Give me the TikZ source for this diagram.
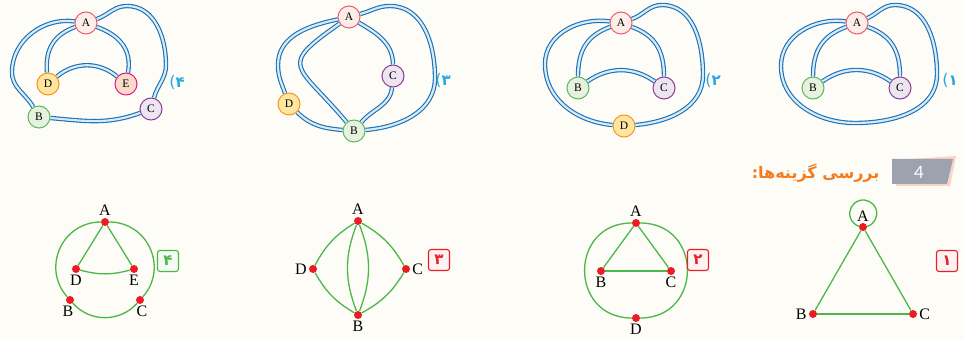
\documentclass[tikz,border=0pt]{standalone}
\usepackage{fontspec}
\usepackage{xcolor}
\usetikzlibrary{positioning}
\setmainfont{Liberation Serif}
\newfontfamily\fafont[Script=Arabic]{DejaVu Sans}
\newfontfamily\digfont{DejaVu Sans}
\newfontfamily\tabfont{Lato}
\TeXXeTstate=1
\definecolor{pagebg}{HTML}{FDFCF7}
\definecolor{roadblue}{HTML}{1B6FB5}
\definecolor{roadfill}{HTML}{D6EBF5}
\definecolor{ringA}{HTML}{EF5A6F}
\definecolor{fillA}{HTML}{FDEEEA}
\definecolor{ringB}{HTML}{5CB85C}
\definecolor{fillB}{HTML}{E6F2DD}
\definecolor{ringC}{HTML}{8B3C97}
\definecolor{fillC}{HTML}{EDE6F1}
\definecolor{ringD}{HTML}{F7931E}
\definecolor{fillD}{HTML}{FFE6A0}
\definecolor{ringE}{HTML}{E5177E}
\definecolor{fillE}{HTML}{FBDACB}
\definecolor{optcyan}{HTML}{27AAE1}
\definecolor{linegreen}{HTML}{4CB749}
\definecolor{dotred}{HTML}{ED1C24}
\definecolor{boxred}{HTML}{E8202A}
\definecolor{boxgreen}{HTML}{4CB749}
\definecolor{headorange}{HTML}{F47B20}
\definecolor{tabgray}{HTML}{9DA3AE}
\definecolor{tabpink}{HTML}{F9D3C4}
\newcommand{\optpar}{{\digfont\mdseries\fontsize{16}{16}\selectfont(}}

\begin{document}
\begin{tikzpicture}[x=1pt,y=1pt,
  every node/.style={font=\fontsize{11.5}{11.5}\selectfont},
  vtx/.style={circle,draw,line width=1pt,minimum size=22pt,inner sep=0pt},
  vA/.style={vtx,draw=ringA,fill=fillA},
  vB/.style={vtx,draw=ringB,fill=fillB},
  vC/.style={vtx,draw=ringC,fill=fillC},
  vD/.style={vtx,draw=ringD,fill=fillD},
  vE/.style={vtx,draw=ringE,fill=fillE},
  road/.style={draw=roadblue,line width=1.1pt,double=roadfill,double distance=2.2pt},
  optlbl/.style={text=optcyan,font=\digfont\bfseries\fontsize{15}{15}\selectfont},
  vdot/.style={circle,fill=dotred,minimum size=8pt,inner sep=0pt},
  gline/.style={draw=linegreen,line width=1.3pt},
  lettr/.style={inner sep=1pt,font=\fontsize{16}{16}\selectfont},
  numbox/.style={draw=#1,fill=#1!6,rounded corners=2.5pt,line width=1.1pt,minimum size=21pt,inner sep=0pt,text=#1,font=\digfont\bfseries\fontsize{15}{15}\selectfont}]
  \fill[pagebg] (0,0) rectangle (964,340);
  \useasboundingbox (0,0) rectangle (964,340);

  \node[vA] (n4A) at (86,317) {A};
  \node[vD] (n4D) at (48,256) {D};
  \node[vE] (n4E) at (126,256) {E};
  \node[vB] (n4B) at (39,223) {B};
  \node[vC] (n4C) at (151,231) {C};
  \coordinate (n4l) at (12,268);
  \coordinate (n4t) at (127,334);
  \coordinate (n4r) at (166,275);
  \draw[road] (n4A) to[out=200,in=95,looseness=1.1] (n4D);
  \draw[road] (n4A) to[out=-20,in=80,looseness=1.1] (n4E);
  \draw[road] (n4D) to[out=40,in=140] (n4E);
  \draw[road] (n4A) to[out=172,in=90] (n4l) to[out=-90,in=120] (n4B);
  \draw[road] (n4A) to[out=20,in=180] (n4t) to[out=0,in=90] (n4r) to[out=-90,in=75] (n4C);
  \draw[road] (n4B) to[out=-5,in=200] (n4C);
  \node[optlbl] (o4) at (177,258) {\optpar۴};

  \node[vA] (n3A) at (349,323) {A};
  \node[vC] (n3C) at (393,264) {C};
  \node[vD] (n3D) at (289,236) {D};
  \node[vB] (n3B) at (354,209) {B};
  \coordinate (n3l) at (278,275);
  \coordinate (n3t) at (390,334);
  \coordinate (n3r) at (435,262);
  \draw[road] (n3A) to[out=192,in=90] (n3l) to[out=-90,in=110] (n3D);
  \draw[road] (n3D) to[out=-45,in=175] (n3B);
  \draw[road] (n3A) to[out=215,in=130,looseness=2] (n3B);
  \draw[road] (n3A) to[out=-30,in=90] (n3C);
  \draw[road] (n3C) to[out=-95,in=50] (n3B);
  \draw[road] (n3A) to[out=15,in=180] (n3t) to[out=0,in=90] (n3r) to[out=-90,in=5] (n3B);
  \node[optlbl] (o3) at (443,260) {\optpar۳};

  \node[vA] (n2A) at (621,317) {A};
  \node[vB] (n2B) at (578,252) {B};
  \node[vC] (n2C) at (664,252) {C};
  \node[vD] (n2D) at (624,214) {D};
  \coordinate (n2l) at (545,276);
  \coordinate (n2t) at (662,335);
  \coordinate (n2r) at (703,265);
  \draw[road] (n2A) to[out=200,in=90,looseness=1.1] (n2B);
  \draw[road] (n2A) to[out=-20,in=90,looseness=1.1] (n2C);
  \draw[road] (n2B) to[out=35,in=145] (n2C);
  \draw[road] (n2A) to[out=172,in=90] (n2l) to[out=-90,in=175] (n2D);
  \draw[road] (n2A) to[out=20,in=180] (n2t) to[out=0,in=90] (n2r) to[out=-90,in=5] (n2D);
  \node[optlbl] (o2) at (713,260) {\optpar۲};

  \node[vA] (n1A) at (857,317) {A};
  \node[vB] (n1B) at (813,252) {B};
  \node[vC] (n1C) at (900,252) {C};
  \coordinate (n1l) at (781,274);
  \coordinate (n1b) at (855,217);
  \coordinate (n1r) at (937,266);
  \coordinate (n1t) at (895,335);
  \draw[road] (n1A) to[out=200,in=90,looseness=1.1] (n1B);
  \draw[road] (n1A) to[out=-20,in=90,looseness=1.1] (n1C);
  \draw[road] (n1B) to[out=35,in=145] (n1C);
  \draw[road] (n1A) to[out=172,in=90] (n1l) to[out=-90,in=180] (n1b) to[out=0,in=-90] (n1r) to[out=90,in=0] (n1t) to[out=180,in=25] (n1A);
  \node[optlbl] (o1) at (950,260) {\optpar۱};

  \fill[tabpink] (896,180) -- (956,184) -- (950,154) -- (896,154) -- cycle;
  \fill[tabgray] (892,181) -- (953,181) -- (947,156) -- (892,156) -- cycle;
  \node[text=white,font=\tabfont\fontsize{17}{17}\selectfont] (qnum) at (919,168) {4};
  \node[anchor=east,text=headorange,font=\fafont\bfseries\fontsize{16}{16}\selectfont] (qhead) at (883,167) {\beginR بررسی گزینه‌ها:\endR};

  \node[vdot] (d4A) at (105,118) {};
  \node[vdot] (d4D) at (76,71) {};
  \node[vdot] (d4E) at (134,71) {};
  \node[vdot] (d4B) at (70,40) {};
  \node[vdot] (d4C) at (140,40) {};
  \draw[gline] (d4A) -- (d4D);
  \draw[gline] (d4A) -- (d4E);
  \draw[gline] (d4D) to[bend right=15] (d4E);
  \draw[gline] (d4A) to[bend right=65.75,looseness=1.21] (d4B);
  \draw[gline] (d4B) to[bend right=48.5,looseness=1.03] (d4C);
  \draw[gline] (d4C) to[bend right=65.75,looseness=1.21] (d4A);
  \node[lettr,above=1pt of d4A] (l4A) {A};
  \node[lettr,below=1pt of d4D] (l4D) {D};
  \node[lettr,below=1pt of d4E] (l4E) {E};
  \node[lettr,below=1pt of d4B,xshift=-2pt] (l4B) {B};
  \node[lettr,below=1pt of d4C,xshift=2pt] (l4C) {C};
  \node[numbox=boxgreen] (k4) at (168,79) {۴};

  \node[vdot] (d3A) at (358,119) {};
  \node[vdot] (d3D) at (313,71) {};
  \node[vdot] (d3C) at (406,71) {};
  \node[vdot] (d3B) at (358,25) {};
  \draw[gline] (d3A) to[bend right=15] (d3D);
  \draw[gline] (d3D) to[bend right=15] (d3B);
  \draw[gline] (d3A) to[bend left=15] (d3C);
  \draw[gline] (d3C) to[bend left=15] (d3B);
  \draw[gline] (d3A) to[bend right=21] (d3B);
  \draw[gline] (d3A) to[bend left=21] (d3B);
  \node[lettr,above=1pt of d3A] (l3A) {A};
  \node[lettr,left=1pt of d3D] (l3D) {D};
  \node[lettr,right=1pt of d3C] (l3C) {C};
  \node[lettr,below=1pt of d3B] (l3B) {B};
  \node[numbox=boxred] (k3) at (439,80) {۳};

  \node[vdot] (d2A) at (636,117) {};
  \node[vdot] (d2B) at (601,69) {};
  \node[vdot] (d2C) at (671,69) {};
  \node[vdot] (d2D) at (636,22) {};
  \draw[gline] (d2A) -- (d2B);
  \draw[gline] (d2B) -- (d2C);
  \draw[gline] (d2C) -- (d2A);
  \draw[gline] (d2A) to[bend right=90,looseness=1.7] (d2D);
  \draw[gline] (d2A) to[bend left=90,looseness=1.7] (d2D);
  \node[lettr,above=1pt of d2A] (l2A) {A};
  \node[lettr,below=1pt of d2B] (l2B) {B};
  \node[lettr,below=1pt of d2C] (l2C) {C};
  \node[lettr,below=1pt of d2D] (l2D) {D};
  \node[numbox=boxred] (k2) at (698,80) {۲};

  \node[vdot] (d1A) at (863,113) {};
  \node[vdot] (d1B) at (813,26) {};
  \node[vdot] (d1C) at (913,26) {};
  \draw[gline] (d1A) -- (d1B);
  \draw[gline] (d1B) -- (d1C);
  \draw[gline] (d1C) -- (d1A);
  \draw[gline] (d1A.8) arc[start angle=-73,end angle=253,radius=13.5];
  \node[lettr,above=0pt of d1A] (l1A) {A};
  \node[lettr,left=1pt of d1B] (l1B) {B};
  \node[lettr,right=1pt of d1C] (l1C) {C};
  \node[numbox=boxred] (k1) at (947,79) {۱};
\end{tikzpicture}
\end{document}
